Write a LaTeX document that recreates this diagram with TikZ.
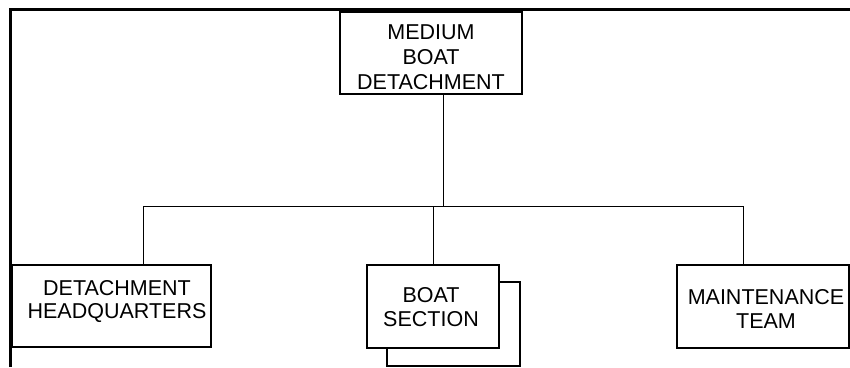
\documentclass[tikz,border=0pt]{standalone}
\usepackage{fontspec}
\setmainfont{Liberation Sans}
\begin{document}
\begin{tikzpicture}[x=1pt,y=-1pt,
        unit/.style={draw=black, line width=2pt, fill=white, minimum height=82pt, inner sep=0pt, outer sep=0pt},
        txt/.style={align=center, inner sep=0pt, font=\fontsize{21.5}{23.5}\selectfont},
        link/.style={draw=black, line width=1pt}]
        \useasboundingbox (0,0) rectangle (850,367);
        % frame
        \draw [line width=3pt] (10,367) -- (10,9) -- (850,9);
        % boxes
        \node [unit, minimum width=182pt] (mbd) at (431,53) {};
        \node [unit, minimum width=199pt] (hq) at (111.5,306) {};
        \node [unit, minimum width=133pt, minimum height=84pt] (boatback) at (453.5,324) {};
        \node [unit, minimum width=132pt, minimum height=83pt] (boat) at (433,306.5) {};
        \node [unit, minimum width=172pt, minimum height=83pt] (maint) at (763,306.5) {};
        % texts
        \node [txt, font=\fontsize{21.5}{25}\selectfont] (mbdtext) at (431,57.5) {MEDIUM\\BOAT\\DETACHMENT};
        \node [txt] (hqtext) at (117,301.5) {DETACHMENT\\HEADQUARTERS};
        \node [txt] (boattext) at (431,307) {BOAT\\SECTION};
        \node [txt] (mainttext) at (766,309) {MAINTENANCE\\TEAM};
        % connectors
        \coordinate (bus) at (443,206);
        \coordinate (busL) at (143,206);
        \coordinate (busR) at (743,206);
        \draw [link] (bus |- mbd.south) -- (bus);
        \draw [link] (busL) -- (busR);
        \draw [link] (busL) -- (busL |- hq.north);
        \draw [link] (boat.north |- bus) -- (boat.north);
        \draw [link] (busR) -- (busR |- maint.north);
\end{tikzpicture}
\end{document}
